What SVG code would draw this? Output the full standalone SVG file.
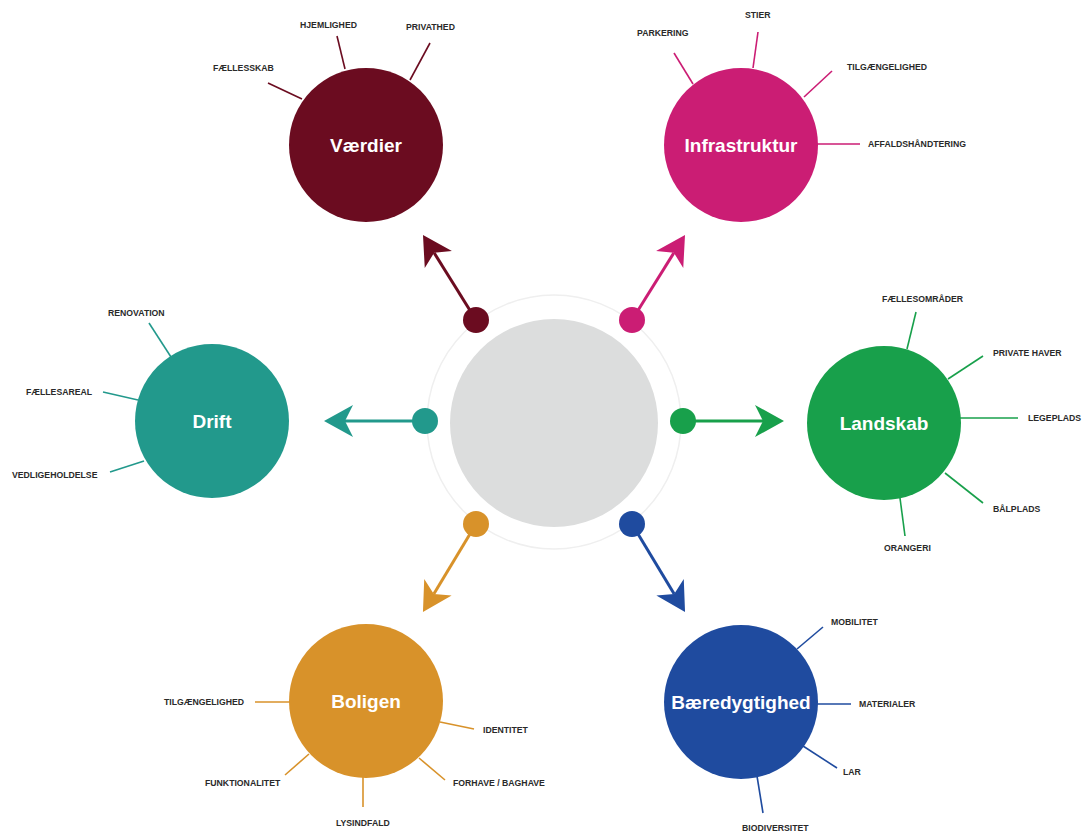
<svg xmlns="http://www.w3.org/2000/svg" width="1084" height="832" viewBox="0 0 1084 832">
<style>
.big{font-family:"Liberation Sans",Arial,sans-serif;font-weight:bold;font-size:19px;fill:#fff;text-anchor:middle}
.lbl{font-family:"Liberation Sans",Arial,sans-serif;font-weight:bold;font-size:8.7px;fill:#2a2a2a}
.sp{stroke-width:1.6;fill:none}
.ar{stroke-width:3;fill:none}
</style>
<defs>
<marker id="mV" markerUnits="userSpaceOnUse" viewBox="-9 -17 31 34" markerWidth="31" markerHeight="34" refX="0" refY="0" orient="auto" overflow="visible"><path d="M21,0 L-8,-16 L0,0 L-8,16 Z" fill="#6b0c20"/></marker>
<marker id="mI" markerUnits="userSpaceOnUse" viewBox="-9 -17 31 34" markerWidth="31" markerHeight="34" refX="0" refY="0" orient="auto" overflow="visible"><path d="M21,0 L-8,-16 L0,0 L-8,16 Z" fill="#cb1d74"/></marker>
<marker id="mD" markerUnits="userSpaceOnUse" viewBox="-9 -17 31 34" markerWidth="31" markerHeight="34" refX="0" refY="0" orient="auto" overflow="visible"><path d="M21,0 L-8,-16 L0,0 L-8,16 Z" fill="#22998c"/></marker>
<marker id="mL" markerUnits="userSpaceOnUse" viewBox="-9 -17 31 34" markerWidth="31" markerHeight="34" refX="0" refY="0" orient="auto" overflow="visible"><path d="M21,0 L-8,-16 L0,0 L-8,16 Z" fill="#18a04b"/></marker>
<marker id="mB" markerUnits="userSpaceOnUse" viewBox="-9 -17 31 34" markerWidth="31" markerHeight="34" refX="0" refY="0" orient="auto" overflow="visible"><path d="M21,0 L-8,-16 L0,0 L-8,16 Z" fill="#d8922a"/></marker>
<marker id="mS" markerUnits="userSpaceOnUse" viewBox="-9 -17 31 34" markerWidth="31" markerHeight="34" refX="0" refY="0" orient="auto" overflow="visible"><path d="M21,0 L-8,-16 L0,0 L-8,16 Z" fill="#1f4b9f"/></marker>
</defs>
<rect width="1084" height="832" fill="#fff"/>

<g id="center">
<circle cx="554" cy="422" r="127" fill="none" stroke="#efefef" stroke-width="1.5"/>
<circle cx="554" cy="423" r="104" fill="#dcdddd"/>
</g>

<g id="connectors">
<line class="ar" x1="476" y1="320" x2="434.1" y2="252.8" stroke="#6b0c20" marker-end="url(#mV)"/>
<line class="ar" x1="632" y1="320" x2="673.9" y2="252.8" stroke="#cb1d74" marker-end="url(#mI)"/>
<line class="ar" x1="425" y1="421" x2="345" y2="421" stroke="#22998c" marker-end="url(#mD)"/>
<line class="ar" x1="683" y1="421" x2="763" y2="421" stroke="#18a04b" marker-end="url(#mL)"/>
<line class="ar" x1="476" y1="524" x2="433.8" y2="594" stroke="#d8922a" marker-end="url(#mB)"/>
<line class="ar" x1="632" y1="524" x2="674.2" y2="594" stroke="#1f4b9f" marker-end="url(#mS)"/>
<circle cx="476" cy="320" r="13" fill="#6b0c20"/>
<circle cx="632" cy="320" r="13" fill="#cb1d74"/>
<circle cx="425" cy="421" r="13" fill="#22998c"/>
<circle cx="683" cy="421" r="13" fill="#18a04b"/>
<circle cx="476" cy="524" r="13" fill="#d8922a"/>
<circle cx="632" cy="524" r="13" fill="#1f4b9f"/>
</g>

<g id="vaerdier">
<g class="sp" stroke="#6b0c20">
<line x1="268" y1="83" x2="302" y2="99"/>
<line x1="337" y1="36" x2="345" y2="69"/>
<line x1="430" y1="43" x2="410" y2="80"/>
</g>
<circle cx="366" cy="145" r="77" fill="#6b0c20"/>
<text class="big" x="366" y="152">Værdier</text>
<text class="lbl" x="213" y="71">FÆLLESSKAB</text>
<text class="lbl" x="300" y="28">HJEMLIGHED</text>
<text class="lbl" x="406" y="30">PRIVATHED</text>
</g>

<g id="infrastruktur">
<g class="sp" stroke="#cb1d74">
<line x1="674" y1="53" x2="693" y2="84"/>
<line x1="758" y1="32" x2="753" y2="68"/>
<line x1="832" y1="71" x2="804" y2="97"/>
<line x1="817" y1="144" x2="860" y2="144"/>
</g>
<circle cx="741" cy="145" r="77" fill="#cb1d74"/>
<text class="big" x="741" y="152">Infrastruktur</text>
<text class="lbl" x="637" y="36">PARKERING</text>
<text class="lbl" x="745" y="18">STIER</text>
<text class="lbl" x="847" y="70">TILGÆNGELIGHED</text>
<text class="lbl" x="868" y="147">AFFALDSHÅNDTERING</text>
</g>

<g id="drift">
<g class="sp" stroke="#22998c">
<line x1="149" y1="323" x2="171" y2="357"/>
<line x1="103" y1="392" x2="138" y2="400"/>
<line x1="110" y1="472" x2="144" y2="461"/>
</g>
<circle cx="212" cy="421" r="77" fill="#22998c"/>
<text class="big" x="212" y="428">Drift</text>
<text class="lbl" x="108" y="316">RENOVATION</text>
<text class="lbl" x="26" y="395">FÆLLESAREAL</text>
<text class="lbl" x="12" y="478">VEDLIGEHOLDELSE</text>
</g>

<g id="landskab">
<g class="sp" stroke="#18a04b">
<line x1="916" y1="312" x2="907" y2="349"/>
<line x1="983" y1="356" x2="948" y2="379"/>
<line x1="959" y1="418" x2="1018" y2="418"/>
<line x1="945" y1="473" x2="983" y2="503"/>
<line x1="900" y1="498" x2="905" y2="536"/>
</g>
<circle cx="884" cy="423" r="77" fill="#18a04b"/>
<text class="big" x="884" y="430">Landskab</text>
<text class="lbl" x="882" y="302">FÆLLESOMRÅDER</text>
<text class="lbl" x="993" y="356">PRIVATE HAVER</text>
<text class="lbl" x="1028" y="421">LEGEPLADS</text>
<text class="lbl" x="993" y="512">BÅLPLADS</text>
<text class="lbl" x="884" y="551">ORANGERI</text>
</g>

<g id="boligen">
<g class="sp" stroke="#d8922a">
<line x1="255" y1="702" x2="291" y2="702"/>
<line x1="440" y1="722" x2="474" y2="729"/>
<line x1="285" y1="775" x2="309" y2="754"/>
<line x1="419" y1="758" x2="445" y2="780"/>
<line x1="363" y1="776" x2="363" y2="807"/>
</g>
<circle cx="366" cy="701" r="77" fill="#d8922a"/>
<text class="big" x="366" y="708">Boligen</text>
<text class="lbl" x="164" y="705">TILGÆNGELIGHED</text>
<text class="lbl" x="483" y="733">IDENTITET</text>
<text class="lbl" x="205" y="786">FUNKTIONALITET</text>
<text class="lbl" x="453" y="786">FORHAVE / BAGHAVE</text>
<text class="lbl" x="336" y="826">LYSINDFALD</text>
</g>

<g id="baeredygtighed">
<g class="sp" stroke="#1f4b9f">
<line x1="823" y1="627" x2="797" y2="649"/>
<line x1="816" y1="704" x2="851" y2="704"/>
<line x1="803" y1="746" x2="837" y2="768"/>
<line x1="757" y1="776" x2="763" y2="813"/>
</g>
<circle cx="741" cy="702" r="77" fill="#1f4b9f"/>
<text class="big" x="741" y="709">Bæredygtighed</text>
<text class="lbl" x="831" y="625">MOBILITET</text>
<text class="lbl" x="859" y="707">MATERIALER</text>
<text class="lbl" x="843" y="775">LAR</text>
<text class="lbl" x="742" y="831">BIODIVERSITET</text>
</g>
</svg>
